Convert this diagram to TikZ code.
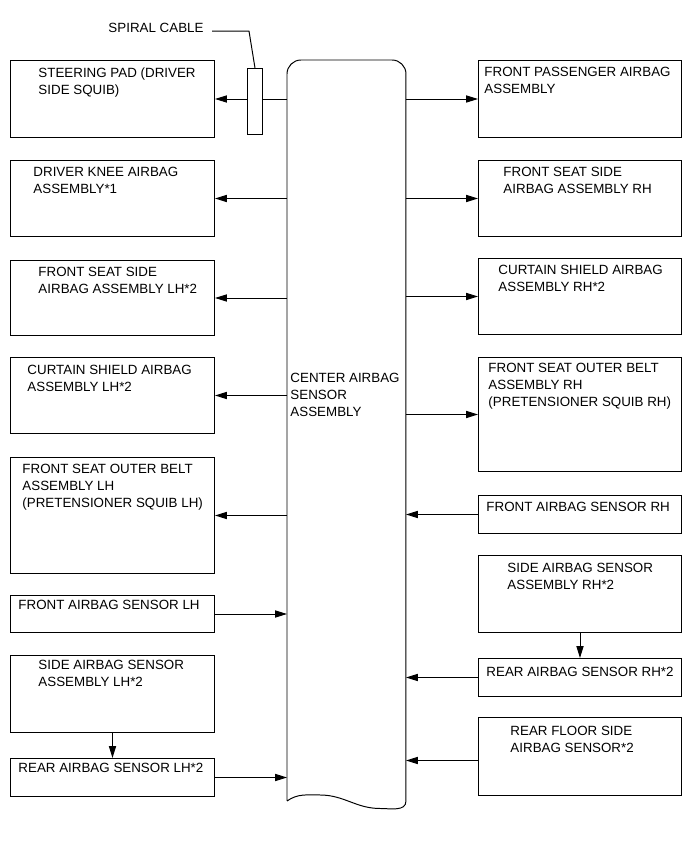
\documentclass[tikz,border=0pt]{standalone}
\usepackage{fontspec}
\setmainfont{Liberation Sans}
\usetikzlibrary{arrows.meta,positioning,calc}

% box with its label set in from the top left corner
\newcommand\airbox[7]{%
  \node[box, minimum width=#4*0.025cm, minimum height=#5*0.025cm] (#1) at (#2,#3) {};
  \node[txt] (#1-t) at ($(#1.north west)+(#6)$) {#7};}

\begin{document}
\begin{tikzpicture}[
  x=0.025cm, y=-0.025cm,
  line width=0.7pt,
  box/.style={draw, anchor=north west, inner sep=0pt, fill=white},
  txt/.style={anchor=north west, inner sep=0pt, align=left, font=\fontsize{9.5}{12}\selectfont},
  arr/.style={-{Triangle[length=3mm,width=1.8mm]}}
]
  \useasboundingbox (0,0) rectangle (691,855);

  % center unit
  \node[anchor=north west, inner sep=0pt, minimum width=118*0.025cm, minimum height=740*0.025cm] (cab) at (287,60) {};
  \draw (cab.south west) to[out=35,in=180] ++(33,-6) to[out=0,in=180] ++(60,13.5) to[out=0,in=-90] (cab.south east)
    [rounded corners=0.35cm] -- (cab.north east) -- (cab.north west) -- (cab.south west);
  \node[txt] (cab-t) at (290,373) {CENTER AIRBAG\\SENSOR\\ASSEMBLY};

  % left column
  \airbox{steer}{10}{60}{204}{77}{28,7}{STEERING PAD (DRIVER\\SIDE SQUIB)}
  \airbox{knee}{10}{160}{204}{76}{23,7}{DRIVER KNEE AIRBAG\\ASSEMBLY*1}
  \airbox{fsideL}{10}{260}{204}{75}{28,7}{FRONT SEAT SIDE\\AIRBAG ASSEMBLY LH*2}
  \airbox{curtL}{10}{357}{204}{76}{17,8}{CURTAIN SHIELD AIRBAG\\ASSEMBLY LH*2}
  \airbox{beltL}{10}{457}{204}{116}{12,7}{FRONT SEAT OUTER BELT\\ASSEMBLY LH\\(PRETENSIONER SQUIB LH)}
  \airbox{fsensL}{10}{595}{204}{37}{8,5}{FRONT AIRBAG SENSOR LH}
  \airbox{ssensL}{10}{655}{204}{77}{28,5}{SIDE AIRBAG SENSOR\\ASSEMBLY LH*2}
  \airbox{rsensL}{10}{758}{204}{38}{8,5}{REAR AIRBAG SENSOR LH*2}

  % right column
  \airbox{pass}{478}{60}{203}{77}{6,7}{FRONT PASSENGER AIRBAG\\ASSEMBLY}
  \airbox{fsideR}{478}{160}{203}{76}{25,7}{FRONT SEAT SIDE\\AIRBAG ASSEMBLY RH}
  \airbox{curtR}{478}{258}{203}{76}{20,7}{CURTAIN SHIELD AIRBAG\\ASSEMBLY RH*2}
  \airbox{beltR}{478}{357}{203}{114}{10,6}{FRONT SEAT OUTER BELT\\ASSEMBLY RH\\(PRETENSIONER SQUIB RH)}
  \airbox{fsensR}{478}{495}{203}{38}{8,7}{FRONT AIRBAG SENSOR RH}
  \airbox{ssensR}{478}{555}{203}{77}{29,8}{SIDE AIRBAG SENSOR\\ASSEMBLY RH*2}
  \airbox{rsensR}{478}{658}{203}{38}{8,9}{REAR AIRBAG SENSOR RH*2}
  \airbox{rfloor}{478}{717}{203}{78}{32,9}{REAR FLOOR SIDE\\AIRBAG SENSOR*2}

  % outputs
  \draw[arr] (steer.east -| cab.west) -- (steer.east);
  \draw[arr] (knee.east -| cab.west) -- (knee.east);
  \draw[arr] (fsideL.east -| cab.west) -- (fsideL.east);
  \draw[arr] (curtL.east -| cab.west) -- (curtL.east);
  \draw[arr] (beltL.east -| cab.west) -- (beltL.east);
  \draw[arr] (pass.west -| cab.east) -- (pass.west);
  \draw[arr] (fsideR.west -| cab.east) -- (fsideR.west);
  \draw[arr] (curtR.west -| cab.east) -- (curtR.west);
  \draw[arr] (beltR.west -| cab.east) -- (beltR.west);

  % inputs
  \draw[arr] (fsensL.east) -- (fsensL.east -| cab.west);
  \draw[arr] (rsensL.east) -- (rsensL.east -| cab.west);
  \draw[arr] (fsensR.west) -- (fsensR.west -| cab.east);
  \draw[arr] (rsensR.west) -- (rsensR.west -| cab.east);
  \draw[arr] ([yshift=-4*0.025cm]rfloor.west) -- ([yshift=-4*0.025cm]rfloor.west -| cab.east);
  \draw[arr] (ssensL.south) -- (rsensL.north);
  \draw[arr] (ssensR.south) -- (rsensR.north);

  % spiral cable
  \node[box, minimum width=15*0.025cm, minimum height=66*0.025cm] (spiral) at (247,68) {};
  \node[txt] (spl) at (108,23) {SPIRAL CABLE};
  \draw ([xshift=8*0.025cm, yshift=-3*0.025cm]spl.east) -- ++(37,0) -- (spiral.north);
\end{tikzpicture}
\end{document}
